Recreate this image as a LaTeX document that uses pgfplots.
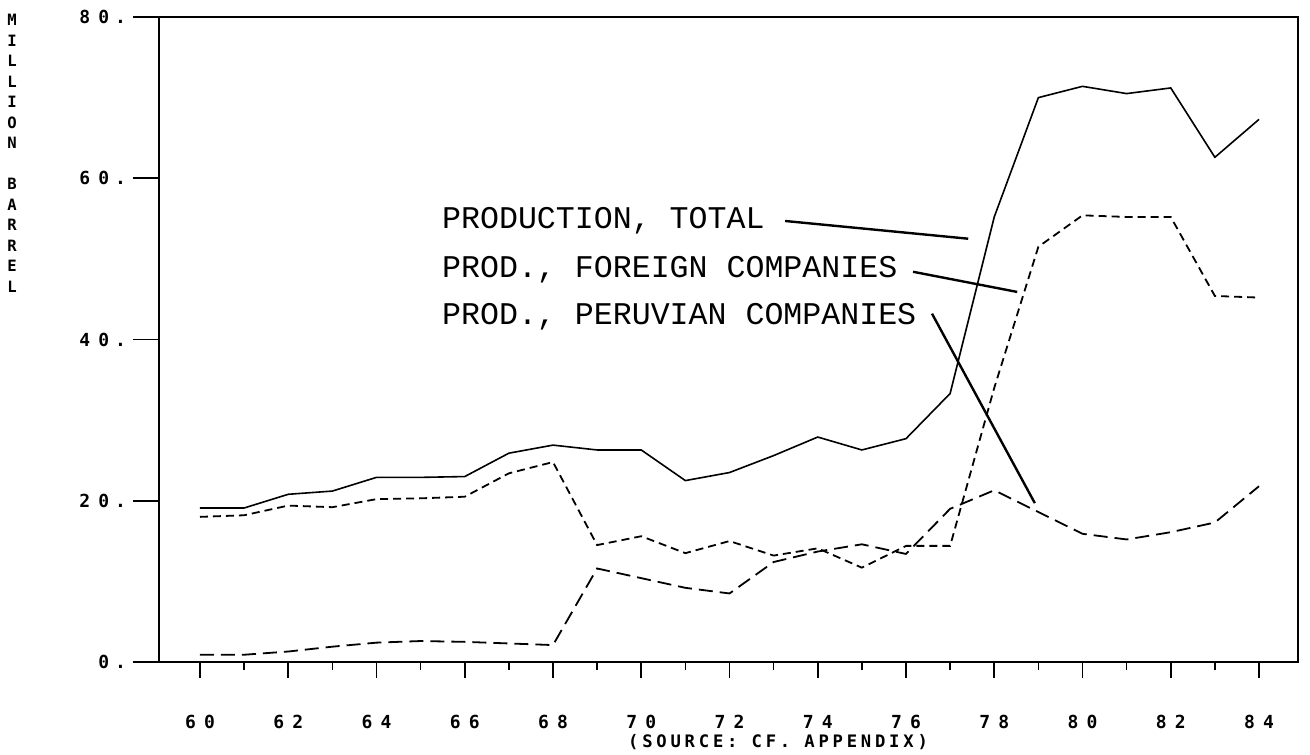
\documentclass[border=0pt]{standalone}
\usepackage{pgfplots}
\pgfplotsset{compat=1.18}
\usepackage{fontspec}
\newfontfamily\plotfont[LetterSpace=45]{DejaVu Sans Mono}
\newfontfamily\srcfont[LetterSpace=22]{DejaVu Sans Mono}
\newfontfamily\courier{Liberation Mono}
\begin{document}
\begin{tikzpicture}
\begin{axis}[
  at={(0,0)}, anchor=south west,
  scale only axis, width=569.5bp, height=322.5bp,
  xmin=59.071, xmax=84.884, ymin=0, ymax=80,
  xtick={60,62,...,84}, minor xtick={61,63,...,83},
  xticklabels={60,62,64,66,68,70,72,74,76,78,80,82,84},
  xtick pos=left,
  ytick=\empty,
  tick align=outside,
  major tick length=8bp, minor tick length=4bp,
  xtick style={line width=0.8bp, black},
  minor tick style={line width=0.8bp, black},
  xticklabel style={font=\plotfont\bfseries\fontsize{9bp}{10bp}\selectfont, anchor=base},
  xticklabel shift=25bp,
  axis line style={line width=1bp},
  clip=false,
]
\addplot[black, line width=0.8bp] coordinates {
(60,19.1) (61,19.1) (62,20.8) (63,21.2) (64,22.9) (65,22.9) (66,23.0) (67,25.9) (68,26.9) (69,26.3) (70,26.3) (71,22.5) (72,23.5) (73,25.6) (74,27.9) (75,26.3) (76,27.7) (77,33.3) (78,55.2) (79,70.0) (80,71.4) (81,70.5) (82,71.2) (83,62.6) (84,67.3)};
\addplot[black, line width=0.9bp, dash pattern=on 4bp off 2.5bp] coordinates {
(60,18.0) (61,18.2) (62,19.4) (63,19.2) (64,20.2) (65,20.3) (66,20.5) (67,23.4) (68,24.8) (69,14.5) (70,15.6) (71,13.5) (72,15.0) (73,13.2) (74,14.1) (75,11.7) (76,14.4) (77,14.4) (78,34.0) (79,51.5) (80,55.4) (81,55.2) (82,55.2) (83,45.4) (84,45.2)};
\addplot[black, line width=0.9bp, dash pattern=on 7bp off 3.5bp] coordinates {
(60,0.9) (61,0.9) (62,1.3) (63,1.9) (64,2.4) (65,2.6) (66,2.5) (67,2.3) (68,2.1) (69,11.6) (70,10.4) (71,9.2) (72,8.5) (73,12.4) (74,13.7) (75,14.6) (76,13.4) (77,19.0) (78,21.3) (79,18.6) (80,15.9) (81,15.2) (82,16.1) (83,17.3) (84,21.8)};
\node[anchor=base west, inner sep=0pt, font=\courier\fontsize{15.8bp}{18bp}\selectfont] at (axis cs:65.48,53.8) {PRODUCTION, TOTAL};
\node[anchor=base west, inner sep=0pt, font=\courier\fontsize{15.8bp}{18bp}\selectfont] at (axis cs:65.48,47.75) {PROD., FOREIGN COMPANIES};
\node[anchor=base west, inner sep=0pt, font=\courier\fontsize{15.8bp}{18bp}\selectfont] at (axis cs:65.48,41.8) {PROD., PERUVIAN COMPANIES};
\draw[line width=1.2bp] (axis cs:73.26,54.7) -- (axis cs:77.41,52.5);
\draw[line width=1.2bp] (axis cs:76.16,48.4) -- (axis cs:78.52,45.9);
\draw[line width=1.2bp] (axis cs:76.59,43.2) -- (axis cs:78.92,19.7);
\node[anchor=center, inner sep=0pt, font=\srcfont\bfseries\fontsize{8.6bp}{10bp}\selectfont] at (axis cs:73.1,-9.9) {(SOURCE: CF. APPENDIX)};
\node[anchor=north, inner sep=0pt, font=\plotfont\bfseries\fontsize{7.8bp}{10.25bp}\selectfont, align=center] at (axis cs:55.74,80.4) {M\\I\\L\\L\\I\\O\\N\\[10.25bp]B\\A\\R\\R\\E\\L};
\end{axis}
\begin{axis}[
  at={(0,0)}, anchor=south west,
  scale only axis, width=569.5bp, height=322.5bp,
  xmin=59.071, xmax=84.884, ymin=0, ymax=80,
  axis x line=none, axis y line*=left,
  axis line style={draw=none},
  ytick={0,20,40,60,80},
  yticklabels={0\hspace{3bp}.,20\hspace{3bp}.,40\hspace{3bp}.,60\hspace{3bp}.,80\hspace{3bp}.},
  tick align=outside, major tick length=13bp,
  ytick style={line width=0.8bp, black},
  yticklabel style={font=\plotfont\bfseries\fontsize{9bp}{10bp}\selectfont, anchor=east},
]
\end{axis}
\pgfresetboundingbox
\path (-79.5bp,-46.5bp) rectangle (575.5bp,331bp);
\end{tikzpicture}
\end{document}
